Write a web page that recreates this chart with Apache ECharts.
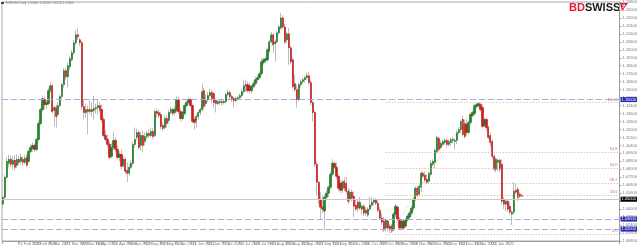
<!DOCTYPE html>
<html><head><meta charset="utf-8">
<script src="https://cdn.jsdelivr.net/npm/echarts@6/dist/echarts.min.js"></script>
<style>html,body{margin:0;padding:0;background:#fff}#c{width:640px;height:246px}</style>
</head><body><div id="c"></div>
<script>
const symbolTitle = 'EURUSD,Daily  1.05400 1.05500 1.05200 1.05300';
const tickLabels = ['1 Feb 2021','11 Feb 2021','23 Feb 2021','5 Mar 2021','17 Mar 2021','29 Mar 2021','8 Apr 2021','20 Apr 2021','30 Apr 2021','12 May 2021','24 May 2021','3 Jun 2021','15 Jun 2021','25 Jun 2021','7 Jul 2021','19 Jul 2021','29 Jul 2021','10 Aug 2021','20 Aug 2021','1 Sep 2021','13 Sep 2021','23 Sep 2021','5 Oct 2021','15 Oct 2021','27 Oct 2021','8 Nov 2021','18 Nov 2021','30 Nov 2021','10 Dec 2021','22 Dec 2021','3 Jan 2022','13 Jan 2022','25 Jan 2022'];

const open = [
1.045,1.052,1.072,1.086,1.090,1.085,1.089,1.084,1.090,1.088,
1.090,1.087,1.092,1.088,1.098,1.101,1.104,1.100,1.110,1.126,
1.140,1.150,1.145,1.146,1.159,1.164,1.139,1.142,1.135,1.144,
1.153,1.165,1.179,1.173,1.183,1.190,1.197,1.207,1.215,1.210,
1.207,1.143,1.137,1.140,1.138,1.140,1.139,1.141,1.142,1.144,
1.140,1.130,1.114,1.110,1.105,1.093,1.102,1.109,1.100,1.092,
1.095,1.084,1.090,1.079,1.076,1.082,1.086,1.105,1.112,1.117,
1.104,1.114,1.108,1.113,1.116,1.114,1.118,1.114,1.138,
1.137,1.135,1.124,1.122,1.131,1.129,1.137,1.140,1.137,1.139,
1.150,1.138,1.131,1.136,1.144,1.147,1.150,1.144,1.130,1.129,
1.133,1.137,1.140,1.159,1.146,1.150,1.154,1.157,1.156,1.149,
1.146,1.147,1.148,1.147,1.148,1.155,1.157,1.153,1.151,1.149,
1.151,1.152,1.154,1.158,1.164,1.165,1.164,1.159,1.163,1.166,
1.170,1.172,1.176,1.187,1.189,1.190,1.199,1.208,1.215,1.206,
1.208,1.217,1.222,1.232,1.223,1.210,1.216,1.202,1.190,1.166,
1.160,1.150,1.165,1.168,1.170,1.172,1.174,1.167,1.147,
1.137,1.085,1.067,1.050,1.042,1.038,1.052,1.056,1.062,1.075,
1.086,1.082,1.073,1.066,1.059,1.068,1.066,1.058,1.050,1.057,
1.053,1.044,1.047,1.041,1.040,1.043,1.039,1.034,1.040,1.044,
1.047,1.049,1.046,1.039,1.031,1.028,1.021,1.028,1.023,1.023,
1.020,1.035,1.042,1.030,1.021,1.028,1.023,1.029,1.032,1.036,
1.041,1.050,1.061,1.055,1.062,1.076,1.074,1.070,1.068,1.075,
1.085,1.087,1.098,1.111,1.102,1.105,1.107,1.109,1.105,1.107,
1.109,1.108,1.109,1.117,1.120,1.130,1.126,1.125,1.117,1.127,1.134,
1.136,1.143,1.144,1.145,1.142,1.124,1.130,1.122,1.114,1.108,
1.093,1.080,1.087,1.089,1.085,1.050,1.045,1.048,1.043,1.035,
1.037,1.059,1.060,1.055,1.054];

const close = [
1.052,1.072,1.088,1.090,1.085,1.089,1.082,1.090,1.087,1.092,
1.087,1.091,1.084,1.098,1.102,1.104,1.100,1.110,1.126,1.140,
1.151,1.145,1.147,1.159,1.164,1.138,1.142,1.133,1.144,1.153,
1.165,1.179,1.173,1.184,1.191,1.197,1.207,1.215,1.213,1.207,
1.143,1.137,1.140,1.138,1.140,1.138,1.141,1.142,1.144,1.140,
1.130,1.114,1.110,1.105,1.092,1.102,1.109,1.100,1.092,1.095,
1.083,1.090,1.078,1.076,1.082,1.086,1.105,1.110,1.117,1.102,
1.114,1.104,1.113,1.116,1.114,1.118,1.113,1.138,1.136,
1.134,1.123,1.121,1.131,1.126,1.137,1.140,1.136,1.140,1.150,
1.138,1.131,1.137,1.144,1.147,1.150,1.144,1.128,1.127,1.133,
1.137,1.140,1.158,1.143,1.149,1.154,1.157,1.151,1.147,1.146,
1.148,1.148,1.147,1.148,1.155,1.157,1.153,1.150,1.149,1.151,
1.152,1.154,1.158,1.164,1.165,1.159,1.159,1.163,1.166,1.170,
1.172,1.176,1.188,1.190,1.191,1.200,1.208,1.215,1.205,1.208,
1.217,1.223,1.232,1.223,1.208,1.216,1.202,1.188,1.163,1.160,
1.150,1.165,1.168,1.170,1.172,1.174,1.167,1.147,1.137,
1.085,1.067,1.050,1.042,1.040,1.052,1.056,1.062,1.075,1.086,
1.082,1.073,1.061,1.059,1.067,1.061,1.058,1.048,1.057,1.051,
1.043,1.040,1.041,1.047,1.043,1.036,1.036,1.040,1.044,1.047,
1.049,1.046,1.039,1.031,1.027,1.019,1.029,1.021,1.019,1.018,
1.035,1.043,1.030,1.021,1.028,1.021,1.029,1.033,1.036,1.041,
1.050,1.061,1.054,1.063,1.076,1.073,1.069,1.067,1.076,1.086,
1.088,1.099,1.112,1.100,1.106,1.108,1.109,1.105,1.108,1.110,
1.110,1.109,1.117,1.120,1.128,1.115,1.113,1.117,1.127,1.135,1.137,
1.144,1.145,1.146,1.140,1.123,1.130,1.122,1.112,1.107,1.093,
1.080,1.090,1.089,1.080,1.048,1.045,1.048,1.040,1.037,1.037,
1.058,1.057,1.052,1.053,1.053];

const low = [
1.042,1.050,1.070,1.082,1.082,1.080,1.079,1.081,1.084,1.085,
1.084,1.085,1.082,1.086,1.096,1.098,1.097,1.098,1.108,1.124,
1.138,1.140,1.141,1.144,1.157,1.136,1.123,1.122,1.132,1.142,
1.151,1.162,1.170,1.162,1.180,1.188,1.195,1.205,1.210,1.204,
1.140,1.130,1.132,1.115,1.135,1.133,1.130,1.136,1.135,1.137,
1.127,1.112,1.108,1.102,1.090,1.091,1.100,1.097,1.090,1.088,
1.080,1.082,1.075,1.067,1.074,1.080,1.084,1.102,1.109,1.100,
1.099,1.097,1.104,1.110,1.111,1.112,1.110,1.112,1.132,
1.131,1.120,1.119,1.120,1.122,1.126,1.135,1.134,1.134,1.137,
1.136,1.128,1.129,1.134,1.142,1.145,1.142,1.126,1.120,1.122,
1.130,1.134,1.138,1.140,1.144,1.148,1.152,1.147,1.142,1.137,
1.144,1.145,1.144,1.145,1.146,1.153,1.150,1.148,1.142,1.147,
1.149,1.150,1.152,1.156,1.158,1.157,1.156,1.156,1.161,1.164,
1.167,1.170,1.174,1.185,1.187,1.188,1.197,1.206,1.197,1.188,
1.206,1.215,1.220,1.221,1.206,1.206,1.185,1.186,1.161,1.158,
1.142,1.148,1.162,1.166,1.167,1.170,1.165,1.144,1.128,
1.082,1.054,1.045,1.030,1.036,1.019,1.050,1.052,1.060,1.073,
1.080,1.070,1.058,1.056,1.056,1.058,1.055,1.045,1.047,1.048,
1.032,1.038,1.037,1.039,1.034,1.033,1.034,1.032,1.038,1.042,
1.044,1.044,1.037,1.029,1.024,1.017,1.018,1.018,1.016,1.016,
1.018,1.032,1.028,1.019,1.019,1.019,1.021,1.027,1.029,1.033,
1.038,1.048,1.052,1.053,1.057,1.071,1.067,1.065,1.066,1.073,
1.083,1.081,1.096,1.098,1.100,1.103,1.105,1.103,1.103,1.104,
1.106,1.100,1.105,1.115,1.116,1.113,1.111,1.114,1.115,1.125,1.132,
1.134,1.141,1.142,1.138,1.121,1.122,1.119,1.110,1.103,1.090,
1.078,1.077,1.078,1.077,1.045,1.040,1.038,1.037,1.034,1.024,
1.035,1.055,1.048,1.051,1.052];

const high = [
1.054,1.074,1.092,1.095,1.094,1.093,1.094,1.095,1.094,1.096,
1.093,1.094,1.095,1.100,1.105,1.107,1.106,1.112,1.129,1.142,
1.154,1.153,1.150,1.162,1.168,1.166,1.144,1.145,1.148,1.155,
1.167,1.182,1.182,1.187,1.194,1.200,1.210,1.220,1.222,1.212,
1.209,1.150,1.146,1.144,1.150,1.147,1.154,1.146,1.150,1.147,
1.145,1.133,1.119,1.115,1.108,1.106,1.118,1.112,1.104,1.098,
1.100,1.093,1.092,1.087,1.085,1.089,1.108,1.122,1.121,1.119,
1.118,1.119,1.117,1.119,1.120,1.122,1.121,1.140,1.141,
1.140,1.138,1.127,1.134,1.134,1.140,1.143,1.142,1.143,1.153,
1.153,1.141,1.139,1.146,1.149,1.152,1.152,1.146,1.132,1.135,
1.139,1.142,1.166,1.162,1.155,1.158,1.161,1.160,1.158,1.151,
1.150,1.150,1.151,1.150,1.157,1.160,1.159,1.155,1.153,1.153,
1.154,1.156,1.161,1.170,1.170,1.168,1.167,1.165,1.169,1.173,
1.175,1.178,1.192,1.192,1.193,1.202,1.210,1.218,1.217,1.210,
1.219,1.225,1.237,1.235,1.226,1.218,1.222,1.204,1.192,1.175,
1.165,1.167,1.170,1.172,1.174,1.177,1.178,1.170,1.149,
1.139,1.088,1.068,1.057,1.054,1.055,1.059,1.064,1.078,1.090,
1.088,1.087,1.075,1.069,1.070,1.072,1.072,1.061,1.060,1.060,
1.058,1.050,1.050,1.052,1.045,1.045,1.042,1.042,1.053,1.052,
1.051,1.051,1.049,1.042,1.036,1.032,1.031,1.030,1.025,1.025,
1.037,1.045,1.044,1.032,1.030,1.030,1.031,1.035,1.038,1.044,
1.052,1.063,1.063,1.065,1.078,1.078,1.078,1.075,1.078,1.089,
1.090,1.101,1.114,1.113,1.109,1.110,1.111,1.111,1.110,1.112,
1.112,1.111,1.119,1.122,1.130,1.134,1.130,1.130,1.129,1.137,1.139,
1.146,1.147,1.147,1.147,1.145,1.132,1.132,1.124,1.117,1.110,
1.095,1.092,1.091,1.091,1.090,1.052,1.050,1.050,1.047,1.039,
1.067,1.066,1.062,1.057,1.055];

const levelLines = [1.145, 1.031, 1.019];
const bidPrice = 1.053;
const fibLevels = [1.147, 1.097, 1.081, 1.066, 1.054, 1.015];
const fibNames = ['100.0', '61.8', '50.0', '38.2', '23.6', '0.0'];
const fibLow = 1.016, fibLowIndex = 196;
const fibHigh = 1.147, fibHighIndex = 240;
const fibStartIndex = 194;
const totalSlots = 313;

const N = open.length;
const cats = Array.from({length: totalSlots}, (_, i) => String(i));
// wick: zero-height body at the low, line up to the high
const wickData = open.map((_, i) => [low[i], low[i], low[i], high[i]]);
const bodyData = open.map((o, i) => [o, close[i], Math.min(o, close[i]), Math.max(o, close[i])]);

const boxLabel = (bg) => ({show: true, position: 'end', distance: 1, fontSize: 4, color: '#fff',
  backgroundColor: bg, padding: [1, 1, 0, 1], formatter: (p) => p.value.toFixed(5)});

const markData = [];
levelLines.forEach(v => markData.push({yAxis: v, lineStyle: {color: '#a9a9dc', type: [6, 3], width: 1}, label: boxLabel('#2a2ab0')}));
markData.push({yAxis: bidPrice, lineStyle: {color: '#c9c9c9', type: 'solid', width: 1}, label: boxLabel('#000')});
fibLevels.forEach((v, k) => markData.push([
  {coord: [fibStartIndex, v], lineStyle: {color: '#e2a4a4', type: [1, 2], width: 1},
   label: {show: true, position: 'insideEndTop', distance: 1, fontSize: 4, color: '#c27070', formatter: fibNames[k]}},
  {coord: [totalSlots - 1, v]}
]));
markData.push([
  {coord: [fibLowIndex, fibLow], lineStyle: {color: '#e6b4b4', type: [1, 2], width: 1}, label: {show: false}},
  {coord: [fibHighIndex, fibHigh]}
]);

const chart = echarts.init(document.getElementById('c'), null, {renderer: 'canvas'});
chart.setOption({
  animation: false,
  textStyle: {fontFamily: 'Liberation Sans'},
  grid: {left: 2, right: 12, top: 2, bottom: 4, show: true, borderColor: '#a8a8a8', borderWidth: 1, backgroundColor: '#fff'},
  xAxis: {
    type: 'category', data: cats, boundaryGap: true,
    axisLine: {lineStyle: {color: '#a0a0a0'}},
    axisTick: {show: true, length: 3, interval: (i) => i % 8 === 0 && i < N, lineStyle: {color: '#a0a0a0'}},
    axisLabel: {interval: (i) => i % 8 === 0 && i < N, formatter: (v, i) => tickLabels[i / 8] || '',
      fontSize: 4, color: '#7a7a7a', align: 'left', margin: 1},
    splitLine: {show: false}
  },
  yAxis: {
    type: 'value', position: 'right', min: 1.008, max: 1.248, interval: 0.008,
    axisLine: {show: true, lineStyle: {color: '#a0a0a0'}},
    axisTick: {show: true, length: 2, lineStyle: {color: '#a0a0a0'}},
    axisLabel: {fontSize: 4, color: '#7a7a7a', margin: 3, formatter: (v) => v.toFixed(5)},
    splitLine: {show: false}
  },
  series: [
    {type: 'candlestick', data: wickData, barWidth: 1, silent: true,
     itemStyle: {color: '#bdbdbd', color0: '#bdbdbd', borderColor: '#bdbdbd', borderColor0: '#bdbdbd', borderColorDoji: '#bdbdbd', borderWidth: 1}},
    {type: 'candlestick', data: bodyData, barWidth: 1.8, silent: true,
     itemStyle: {color: '#1f8526', color0: '#d41a1a', borderColor: '#17701d', borderColor0: '#c01515', borderColorDoji: '#888', borderWidth: 0.6},
     markLine: {symbol: ['none', 'none'], silent: true, animation: false, data: markData}}
  ],
  graphic: [
    {type: 'rect', left: 1, top: 2, shape: {width: 3, height: 2}, style: {fill: '#444'}},
    {type: 'text', left: 6, top: 2, style: {text: symbolTitle, fontSize: 3, fill: '#777', fontFamily: 'Liberation Sans'}},
    {type: 'text', left: 569, top: 2, style: {text: '{a|BD}{b|SWISS}', rich: {
      a: {fill: '#e31b2d', fontWeight: 'bold', fontSize: 11, fontFamily: 'Liberation Sans'},
      b: {fill: '#1a1a1a', fontWeight: 'bold', fontSize: 11, fontFamily: 'Liberation Sans'}}}},
    {type: 'polygon', shape: {points: [[620, 3], [628, 3], [622, 11]]}, style: {fill: '#e31b2d'}},
    {type: 'polyline', shape: {points: [[622, 5], [625, 5], [622.5, 8]]}, style: {stroke: '#fff', lineWidth: 1, fill: null}}
  ]
});
</script></body></html>
